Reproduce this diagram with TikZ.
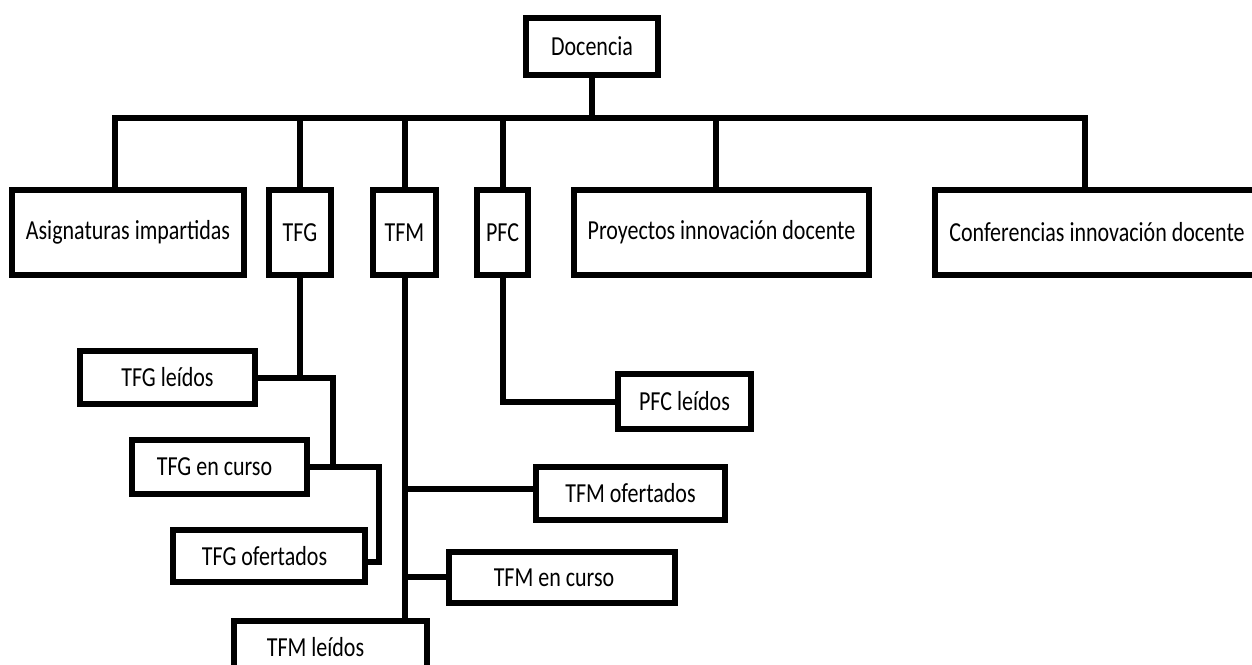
\documentclass[tikz,border=0pt]{standalone}
\usepackage{fontspec}
\setmainfont{Carlito}
\usepackage{graphicx}
\newcommand{\tx}[1]{\scalebox{1}[1.25]{#1}}
\begin{document}
\begin{tikzpicture}[x=1pt,y=-1pt,
  box/.style={draw, line width=6pt, inner sep=0pt, line join=miter, font=\fontsize{22}{26}\selectfont},
  conn/.style={line width=6pt, line join=miter}]
\useasboundingbox (0,0) rectangle (1252,664);
\clip (0,0) rectangle (1252,664);
% top
\node[box, minimum width=132pt, minimum height=57pt] (doc) at (592,46.5) {\tx{Docencia}};
% row 1
\node[box, minimum width=232pt, minimum height=85pt] (asig) at (128,232.5) {\tx{Asignaturas impartidas}};
\node[box, minimum width=62pt, minimum height=85pt] (tfg) at (300,232.5) {\tx{TFG}};
\node[box, minimum width=63pt, minimum height=85pt] (tfm) at (404.5,232.5) {\tx{TFM}};
\node[box, minimum width=51pt, minimum height=85pt] (pfc) at (502.5,232.5) {\tx{PFC}};
\node[box, minimum width=295pt, minimum height=85pt] (proy) at (721.5,232.5) {\tx{Proyectos innovación docente}};
\node[box, minimum width=324pt, minimum height=85pt] (conf) at (1097,232.5) {\tx{Conferencias innovación docente}};
% lower
\node[box, minimum width=175pt, minimum height=53pt] (tfgl) at (167.5,377.5) {\tx{TFG leídos}};
\node[box, minimum width=175pt, minimum height=54pt] (tfgc) at (219.5,467) {\tx{TFG en curso}\hspace*{10pt}};
\node[box, minimum width=192pt, minimum height=52pt] (tfgo) at (269,556) {\tx{TFG ofertados}\hspace*{9pt}};
\node[box, minimum width=189pt, minimum height=53pt] (tfmo) at (630.5,493.5) {\tx{TFM ofertados}};
\node[box, minimum width=226pt, minimum height=51pt] (tfmc) at (562,577.5) {\tx{TFM en curso}\hspace*{16pt}};
\node[box, minimum width=193pt, minimum height=52pt] (tfml) at (330.5,647) {\tx{TFM leídos}\hspace*{30pt}};
\node[box, minimum width=133pt, minimum height=55pt] (pfcl) at (684.5,401.5) {\tx{PFC leídos}};
% bus
\coordinate (b1) at (115,118);
\coordinate (b2) at (1085,118);
\coordinate (bp) at (716,118);
\draw[conn] (asig.north -| b1) -- (b1) -- (b2) -- (conf.north -| b2);
\draw[conn] (doc.south) -- (doc.south |- b1);
\draw[conn] (tfg.north) -- (tfg.north |- b1);
\draw[conn] (tfm.north) -- (tfm.north |- b1);
\draw[conn] (pfc.north) -- (pfc.north |- b1);
\draw[conn] (bp) -- (bp |- proy.north);
% TFG branch
\coordinate (g1) at (333,377.5);
\coordinate (g2) at (379,467);
\coordinate (g3) at (379,562);
\draw[conn] (tfg.south) -- (tfg.south |- tfgl.east);
\draw[conn] (tfgl.east) -- (g1) -- (g1 |- tfgc.east);
\draw[conn] (tfgc.east) -- (g2) -- (g3) -- (g3 -| tfgo.east);
% TFM branch
\coordinate (m1) at (405,489);
\coordinate (m2) at (405,577);
\draw[conn] (tfm.south) -- (tfm.south |- tfml.north);
\draw[conn] (m1) -- (m1 -| tfmo.west);
\draw[conn] (m2) -- (m2 -| tfmc.west);
% PFC branch
\draw[conn] (pfc.south) -- (pfc.south |- pfcl.west) -- (pfcl.west);
\end{tikzpicture}
\end{document}
